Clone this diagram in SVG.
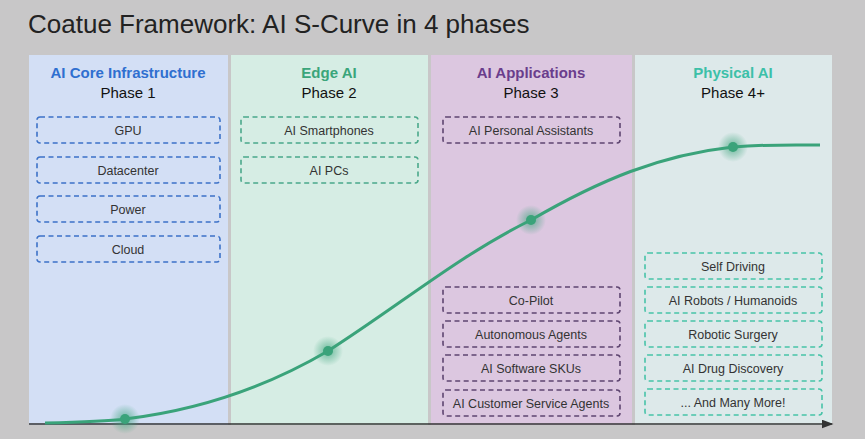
<svg xmlns="http://www.w3.org/2000/svg" width="865" height="439" viewBox="0 0 865 439">
<style>
text{font-family:"Liberation Sans",Arial,sans-serif;text-anchor:middle}
.t{font-size:15px;font-weight:bold}
.p{font-size:15px;fill:#111}
.b{fill:none;stroke-width:1.6;stroke-dasharray:5 3.5}
.l{font-size:12.5px;fill:#333}
.b1{stroke:#3d72c8}.b2{stroke:#4aa88a}.b3{stroke:#5e4570}.b4{stroke:#47c3a8}
</style>
<defs><marker id="ar" markerWidth="8" markerHeight="6" refX="7" refY="3" orient="auto"><path d="M0,0L8,3L0,6z" fill="#333"/></marker>
<radialGradient id="g"><stop offset="0.3" stop-color="#3aa37a" stop-opacity="0.5"/><stop offset="1" stop-color="#3aa37a" stop-opacity="0"/></radialGradient></defs>
<rect width="865" height="439" fill="#c8c7c8"/>
<text x="28" y="33" style="text-anchor:start;font-size:26px;fill:#222">Coatue Framework: AI S-Curve in 4 phases</text>
<g id="phase1"><rect x="29" y="55" width="199" height="370" fill="#d3dff5"/>
<text class="t" x="128" y="78" fill="#2f6fd0">AI Core Infrastructure</text><text class="p" x="128" y="98">Phase 1</text>
<rect class="b b1" x="37" y="117" width="183" height="26" rx="3"/><text class="l" x="128" y="135">GPU</text>
<rect class="b b1" x="37" y="157" width="183" height="26" rx="3"/><text class="l" x="128" y="175">Datacenter</text>
<rect class="b b1" x="37" y="196" width="183" height="26" rx="3"/><text class="l" x="128" y="214">Power</text>
<rect class="b b1" x="37" y="236" width="183" height="26" rx="3"/><text class="l" x="128" y="254">Cloud</text></g>
<g id="phase2"><rect x="231" y="55" width="197" height="370" fill="#d6ede4"/>
<text class="t" x="329" y="78" fill="#3aa57a">Edge AI</text><text class="p" x="329" y="98">Phase 2</text>
<rect class="b b2" x="241" y="117" width="177" height="26" rx="3"/><text class="l" x="329" y="135">AI Smartphones</text>
<rect class="b b2" x="241" y="157" width="177" height="26" rx="3"/><text class="l" x="329" y="175">AI PCs</text></g>
<g id="phase3"><rect x="431" y="55" width="201" height="370" fill="#dcc7e0"/>
<text class="t" x="531" y="78" fill="#6a3d8c">AI Applications</text><text class="p" x="531" y="98">Phase 3</text>
<rect class="b b3" x="443" y="117" width="177" height="26" rx="3"/><text class="l" x="531" y="135">AI Personal Assistants</text>
<rect class="b b3" x="443" y="287" width="177" height="26" rx="3"/><text class="l" x="531" y="305">Co-Pilot</text>
<rect class="b b3" x="443" y="321" width="177" height="26" rx="3"/><text class="l" x="531" y="339">Autonomous Agents</text>
<rect class="b b3" x="443" y="355" width="177" height="26" rx="3"/><text class="l" x="531" y="373">AI Software SKUs</text>
<rect class="b b3" x="443" y="390" width="177" height="26" rx="3"/><text class="l" x="531" y="408">AI Customer Service Agents</text></g>
<g id="phase4"><rect x="635" y="55" width="197" height="370" fill="#dde9ea"/>
<text class="t" x="733" y="78" fill="#3cc0a8">Physical AI</text><text class="p" x="733" y="98">Phase 4+</text>
<rect class="b b4" x="645" y="253" width="177" height="26" rx="3"/><text class="l" x="733" y="271">Self Driving</text>
<rect class="b b4" x="645" y="287" width="177" height="26" rx="3"/><text class="l" x="733" y="305">AI Robots / Humanoids</text>
<rect class="b b4" x="645" y="321" width="177" height="26" rx="3"/><text class="l" x="733" y="339">Robotic Surgery</text>
<rect class="b b4" x="645" y="355" width="177" height="26" rx="3"/><text class="l" x="733" y="373">AI Drug Discovery</text>
<rect class="b b4" x="645" y="389" width="177" height="26" rx="3"/><text class="l" x="733" y="407">... And Many More!</text></g>
<g id="connectors">
<line x1="29" y1="424" x2="832" y2="424" stroke="#333" stroke-width="1.5" marker-end="url(#ar)"/>
<path d="M45,423 C90,422 110,421 125,419 C200,410 270,385 328,351 C400,305 460,255 531,220 C600,180 660,155 733,147 C770,144 800,145 820,145" fill="none" stroke="#3aa37a" stroke-width="3"/>
<g fill="#3aa37a"><circle cx="125" cy="419" r="15" fill="url(#g)"/><circle cx="125" cy="419" r="5"/>
<circle cx="328" cy="351" r="15" fill="url(#g)"/><circle cx="328" cy="351" r="5"/>
<circle cx="531" cy="220" r="15" fill="url(#g)"/><circle cx="531" cy="220" r="5"/>
<circle cx="733" cy="147" r="15" fill="url(#g)"/><circle cx="733" cy="147" r="5"/></g></g>
</svg>
